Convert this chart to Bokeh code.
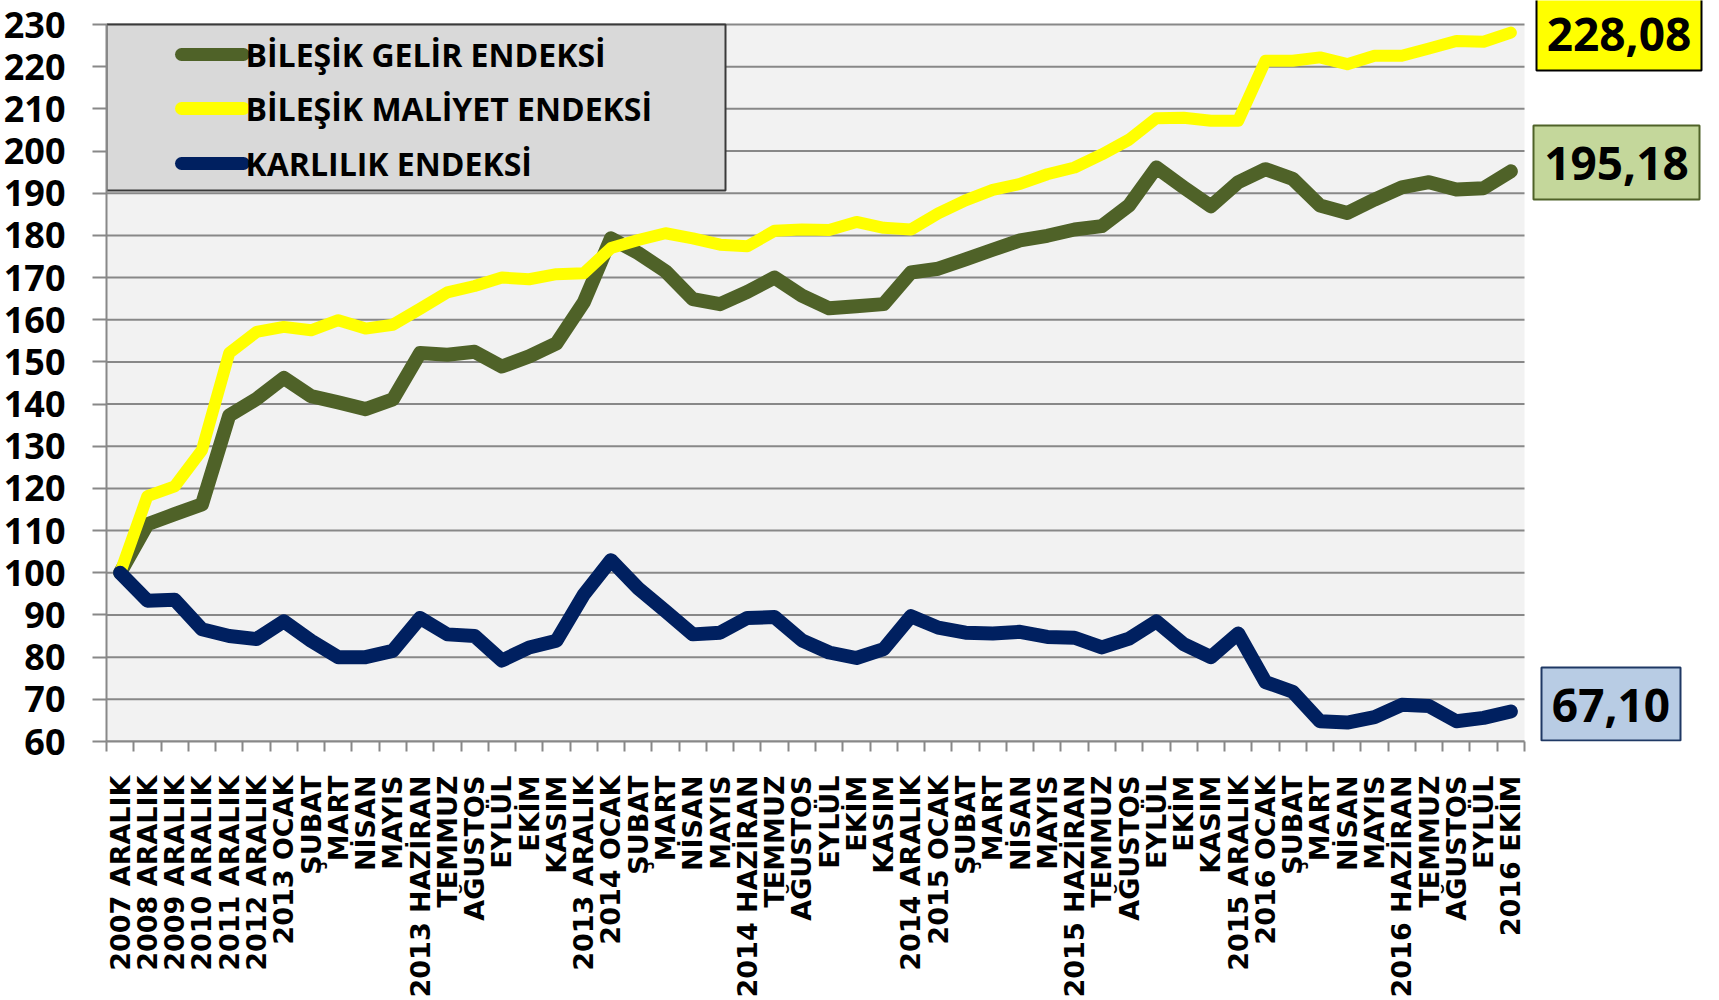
import math
from bokeh.plotting import figure
from bokeh.models import Range1d, FixedTicker
from bokeh.core.properties import value
from bokeh.embed import file_html
from bokeh.resources import INLINE

# ---------------- data ----------------
labels = ["2007 ARALIK", "2008 ARALIK", "2009 ARALIK", "2010 ARALIK", "2011 ARALIK",
          "2012 ARALIK", "2013 OCAK", "ŞUBAT", "MART", "NİSAN", "MAYIS", "2013 HAZİRAN",
          "TEMMUZ", "AĞUSTOS", "EYLÜL", "EKİM", "KASIM", "2013 ARALIK", "2014 OCAK",
          "ŞUBAT", "MART", "NİSAN", "MAYIS", "2014 HAZİRAN", "TEMMUZ", "AĞUSTOS", "EYLÜL",
          "EKİM", "KASIM", "2014 ARALIK", "2015 OCAK", "ŞUBAT", "MART", "NİSAN", "MAYIS",
          "2015 HAZİRAN", "TEMMUZ", "AĞUSTOS", "EYLÜL", "EKİM", "KASIM", "2015 ARALIK",
          "2016 OCAK", "ŞUBAT", "MART", "NİSAN", "MAYIS", "2016 HAZİRAN", "TEMMUZ",
          "AĞUSTOS", "EYLÜL", "2016 EKİM"]

gelir = [100, 111.5, 113.9, 116.2, 137.3, 141.2, 146.2, 141.9, 140.4, 138.8, 141.1,
         152.1, 151.7, 152.4, 148.9, 151.3, 154.4, 164.1, 179.3, 175.8, 171.5, 164.9,
         163.7, 166.6, 170.0, 165.7, 162.7, 163.2, 163.7, 171.2, 172.1, 174.3, 176.6,
         178.8, 179.9, 181.4, 182.2, 187.1, 196.1, 191.4, 186.9, 192.6, 195.7, 193.4,
         187.1, 185.3, 188.5, 191.4, 192.6, 190.9, 191.2, 195.18]

maliyet = [100, 118.2, 120.5, 129.1, 152.1, 157.1, 158.3, 157.5, 159.9, 157.9, 158.8,
           162.6, 166.5, 168.0, 170.0, 169.6, 170.8, 171.0, 177.0, 178.9, 180.5, 179.3,
           177.8, 177.4, 181.1, 181.4, 181.3, 183.2, 181.8, 181.4, 185.2, 188.3, 190.8,
           192.2, 194.5, 196.1, 199.2, 202.7, 207.8, 207.9, 207.2, 207.2, 221.4, 221.4,
           222.2, 220.6, 222.6, 222.6, 224.3, 226.1, 225.9, 228.08]

karlilik = [100, 93.4, 93.6, 86.6, 85.0, 84.3, 88.5, 83.9, 80.0, 80.0, 81.5, 89.3,
            85.4, 85.0, 79.2, 82.3, 83.9, 94.8, 103.0, 96.3, 90.9, 85.4, 85.8, 89.3,
            89.5, 84.0, 81.1, 79.8, 81.9, 89.7, 87.0, 85.8, 85.6, 86.0, 84.8, 84.6,
            82.3, 84.4, 88.5, 83.1, 80.0, 85.6, 74.1, 71.8, 64.8, 64.5, 65.8, 68.7,
            68.4, 64.8, 65.6, 67.10]

series_names = ["BİLEŞİK GELİR ENDEKSİ", "BİLEŞİK MALİYET ENDEKSİ", "KARLILIK ENDEKSİ"]
end_labels = ["228,08", "195,18", "67,10"]
y_ticks = list(range(60, 231, 10))
Y_MIN, Y_MAX = 60, 230

# ---------------- styles / layout (page pixels) ----------------
GREEN = "#4F6228"
YELLOW = "#FFFF00"
NAVY = "#002060"
GRID = "#888888"
FONT = "Open Sans"

PAGE_L, PAGE_R = 113, 1711        # frame left / right on page
PAGE_T, PAGE_B = 8, 749           # frame top / bottom on page
PLOT_R = 1531                     # right edge of the grey plot area
PLOT_T = 32                       # page y of the top gridline
FW, FH = PAGE_R - PAGE_L, PAGE_B - PAGE_T
n = len(labels)
xs = list(range(n))

px_per_x = (PLOT_R - PAGE_L) / n
x_end = -0.5 + FW / px_per_x
px_per_y = (PAGE_B - PLOT_T) / (Y_MAX - Y_MIN)
y_end = Y_MAX + (PLOT_T - PAGE_T) / px_per_y

p = figure(frame_width=FW, frame_height=FH, output_backend="svg", toolbar_location=None,
           x_range=Range1d(-0.5, x_end), y_range=Range1d(Y_MIN, y_end),
           min_border_left=105, min_border_right=0, min_border_top=0,
           min_border_bottom=250)
p.background_fill_color = "white"
p.border_fill_color = "white"
p.outline_line_color = None
p.xgrid.visible = False
p.ygrid.visible = False

# page-pixel helper ranges for decorations
p.extra_x_ranges = {"pg": Range1d(PAGE_L, PAGE_R)}
p.extra_y_ranges = {"pgy": Range1d(PAGE_B, PAGE_T)}

# grey plot area and gridlines
p.quad(left=[-0.5], right=[n - 0.5], bottom=[Y_MIN], top=[Y_MAX],
       fill_color="#F2F2F2", line_color=None)
p.segment(x0=[-0.5] * len(y_ticks), x1=[n - 0.5] * len(y_ticks), y0=y_ticks, y1=y_ticks,
          line_color=GRID, line_width=2)

# y axis
p.yaxis.ticker = FixedTicker(ticks=y_ticks)
p.yaxis.bounds = (Y_MIN, Y_MAX)
p.yaxis.axis_line_color = GRID
p.yaxis.axis_line_width = 2
p.yaxis.major_tick_line_color = GRID
p.yaxis.major_tick_line_width = 2
p.yaxis.major_tick_out = 14
p.yaxis.major_tick_in = 0
p.yaxis.minor_tick_line_color = None
p.yaxis.major_label_standoff = 27
p.yaxis.major_label_text_font = FONT
p.yaxis.major_label_text_font_style = "bold"
p.yaxis.major_label_text_font_size = "36px"
p.yaxis.major_label_text_color = "black"

# x axis
p.xaxis.ticker = FixedTicker(ticks=xs, minor_ticks=[i - 0.5 for i in range(n + 1)])
p.xaxis.bounds = (-0.5, n - 0.5)
p.xaxis.major_label_overrides = {i: lab for i, lab in enumerate(labels)}
p.xaxis.axis_line_color = GRID
p.xaxis.axis_line_width = 2
p.xaxis.major_tick_line_color = None
p.xaxis.major_tick_out = 0
p.xaxis.major_tick_in = 0
p.xaxis.minor_tick_line_color = GRID
p.xaxis.minor_tick_line_width = 2
p.xaxis.minor_tick_out = 10
p.xaxis.minor_tick_in = 0
p.xaxis.major_label_orientation = math.pi / 2
p.xaxis.major_label_standoff = 24
p.xaxis.major_label_text_font = "DejaVu Sans"
p.xaxis.major_label_text_font_style = "bold"
p.xaxis.major_label_text_font_size = "27px"
p.xaxis.major_label_text_color = "black"

# series
for ys, col, w in [(gelir, GREEN, 14), (maliyet, YELLOW, 12), (karlilik, NAVY, 14)]:
    p.line(xs, ys, line_color=col, line_width=w, line_cap="round", line_join="round")

# legend (page pixel coordinates)
LG_L, LG_T = PAGE_L, PLOT_T
p.quad(left=[LG_L], right=[LG_L + 619], top=[LG_T], bottom=[LG_T + 166],
       x_range_name="pg", y_range_name="pgy",
       fill_color="#D9D9D9", line_color="#3A3A3A", line_width=2)
leg_y = [LG_T + 30, LG_T + 84, LG_T + 139]
for yy, col in zip(leg_y, [GREEN, YELLOW, NAVY]):
    p.segment(x0=[LG_L + 75], y0=[yy], x1=[LG_L + 137], y1=[yy],
              x_range_name="pg", y_range_name="pgy",
              line_color=col, line_width=13, line_cap="round")
p.text(x=[LG_L + 139] * 3, y=leg_y, text=series_names,
       x_range_name="pg", y_range_name="pgy",
       text_font=value(FONT), text_font_style="bold", text_font_size="32px",
       text_baseline="middle", text_align="left", text_color="black")

# end value boxes (page pixel coordinates)
box_left = [1543, 1540, 1548]
box_right = [1708, 1706, 1687]
box_top = [4, 133, 675]
box_bottom = [78, 207, 748]
box_fill = [YELLOW, "#C4D79B", "#B8CCE4"]
box_line = ["black", GREEN, "#1F3864"]
p.quad(left=box_left, right=box_right, top=box_top, bottom=box_bottom,
       x_range_name="pg", y_range_name="pgy",
       fill_color=box_fill, line_color=box_line, line_width=2)
p.text(x=[(a + b) / 2 for a, b in zip(box_left, box_right)],
       y=[(a + b) / 2 + 1 for a, b in zip(box_top, box_bottom)],
       text=end_labels, x_range_name="pg", y_range_name="pgy",
       text_font=value(FONT), text_font_style="bold",
       text_font_size="46px", text_align="center", text_baseline="middle",
       text_color="black")

open("out.html", "w").write(file_html(p, INLINE))
